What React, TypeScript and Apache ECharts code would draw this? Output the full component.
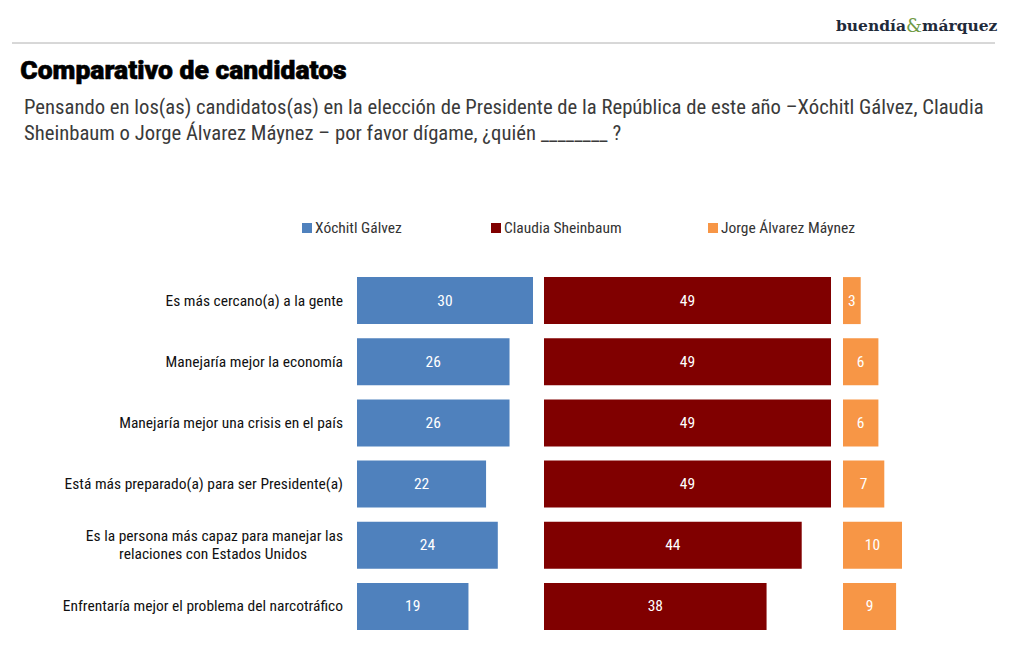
import React, { useEffect, useRef } from "react";
import * as echarts from "echarts";

const categories = [
  "Es más cercano(a) a la gente",
  "Manejaría mejor la economía",
  "Manejaría mejor una crisis en el país",
  "Está más preparado(a) para ser Presidente(a)",
  "Es la persona más capaz para manejar las\nrelaciones con Estados Unidos",
  "Enfrentaría mejor el problema del narcotráfico",
];
const seriesNames = ["Xóchitl Gálvez", "Claudia Sheinbaum", "Jorge Álvarez Máynez"];
const xochitl = [30, 26, 26, 22, 24, 19];
const claudia = [49, 49, 49, 49, 44, 38];
const jorge = [3, 6, 6, 7, 10, 9];
const colors = ["#4F81BD", "#800000", "#F79646"];

const FONT = "'Roboto Condensed', 'Liberation Sans Narrow', Roboto, sans-serif";

export default function App() {
  const ref = useRef<HTMLDivElement>(null);
  useEffect(() => {
    document.body.style.margin = "0";
    if (!ref.current) return;
    const chart = echarts.init(ref.current, null, { renderer: "svg" });
    const values = [xochitl, claudia, jorge];
    const grids = [
      { left: 357, width: 176, max: 30 },
      { left: 544, width: 287, max: 49 },
      { left: 843, width: 59, max: 10 },
    ];
    const legendLeft = [302, 491, 708];
    chart.setOption({
      animation: false,
      backgroundColor: "#ffffff",
      textStyle: { fontFamily: FONT },
      legend: seriesNames.map((n, i) => ({
        data: [n],
        left: legendLeft[i],
        top: 220,
        padding: 0,
        itemWidth: 10,
        itemHeight: 10,
        itemGap: 3,
        icon: "rect",
        textStyle: { fontFamily: FONT, fontSize: 15.5, color: "#333", padding: [0, 0, 0, -2] },
        selectedMode: false,
      })),
      grid: grids.map((g) => ({ left: g.left, width: g.width, top: 270, height: 367 })),
      xAxis: grids.map((g, i) => ({
        type: "value",
        gridIndex: i,
        min: 0,
        max: g.max,
        show: false,
      })),
      yAxis: grids.map((g, i) => ({
        type: "category",
        gridIndex: i,
        data: categories,
        inverse: true,
        axisLine: { show: false },
        axisTick: { show: false },
        splitLine: { show: false },
        axisLabel: {
          show: i === 0,
          margin: 14,
          fontFamily: FONT,
          fontSize: 15.5,
          color: "#111",
          lineHeight: 18,
          formatter: (v: string) => {
            const parts = v.split("\n");
            if (parts.length === 1) return v;
            return `{a|${parts[0]}}\n{b|${parts[1]}}`;
          },
          rich: {
            a: { fontFamily: FONT, fontSize: 15.5, color: "#111", lineHeight: 18 },
            b: { fontFamily: FONT, fontSize: 15.5, color: "#111", lineHeight: 18, padding: [0, 36, 0, 0] },
          },
        },
      })),
      series: seriesNames.map((n, i) => ({
        name: n,
        type: "bar",
        xAxisIndex: i,
        yAxisIndex: i,
        data: values[i],
        barWidth: 47,
        itemStyle: { color: colors[i] },
        label: {
          show: true,
          position: "inside",
          color: "#ffffff",
          fontFamily: FONT,
          fontSize: 15.5,
        },
      })),
      graphic: [
        {
          type: "text",
          left: 836,
          top: 16,
          style: {
            text: "{a|buendía}{g|&}{a|márquez}",
            rich: {
              a: { fontFamily: "'DejaVu Serif', serif", fontSize: 15.5, fill: "#1f2a3a", fontWeight: "bold" },
              g: { fontFamily: "'DejaVu Serif', serif", fontSize: 18, fill: "#6f9a45" },
            },
          },
        },
        {
          type: "line",
          shape: { x1: 12, y1: 43, x2: 995, y2: 43 },
          style: { stroke: "#b0b0b0", lineWidth: 1 },
        },
        {
          type: "text",
          left: 20,
          top: 56,
          style: {
            text: "Comparativo de candidatos",
            fontFamily: "Roboto, sans-serif",
            fontWeight: 900,
            fontSize: 26.5,
            fill: "#000000",
            stroke: "#000000",
            lineWidth: 0.6,
          },
        },
        {
          type: "text",
          left: 24,
          top: 94,
          style: {
            text:
              "Pensando en los(as) candidatos(as) en la elección de Presidente de la República de este año –Xóchitl Gálvez, Claudia\nSheinbaum o Jorge Álvarez Máynez – por favor dígame, ¿quién ________ ?",
            fontFamily: FONT,
            fontSize: 20.7,
            lineHeight: 26,
            fill: "#3a3a3a",
          },
        },
      ],
    });
    return () => chart.dispose();
  }, []);
  return <div ref={ref} style={{ width: 1020, height: 670 }} />;
}
